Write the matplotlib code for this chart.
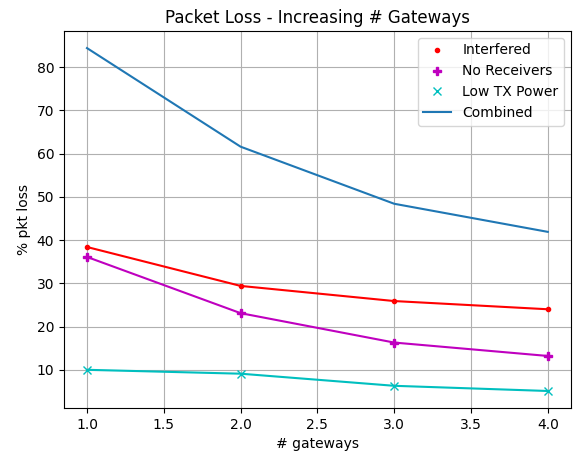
import matplotlib
matplotlib.use("agg")
import matplotlib.pyplot as plt

# datos
gateways = [1, 2, 3, 4]
interfered = [38.4, 29.4, 25.9, 24.0]
no_receivers = [36.1, 23.1, 16.3, 13.2]
low_tx_power = [10.0, 9.1, 6.3, 5.1]
combined = [84.4, 61.6, 48.4, 41.9]

fig = plt.figure(figsize=(5.76, 4.55), dpi=100)
ax = fig.add_subplot(111)
fig.subplots_adjust(left=0.111, right=0.991, top=0.932, bottom=0.103)

ax.plot(gateways, interfered, 'r.', label="Interfered")
ax.plot(gateways, interfered, 'r')
ax.plot(gateways, no_receivers, 'mP', label="No Receivers")
ax.plot(gateways, no_receivers, 'm')
ax.plot(gateways, low_tx_power, 'cx', label="Low TX Power")
ax.plot(gateways, low_tx_power, 'c')
ax.plot(gateways, combined, label="Combined")

ax.set_title("Packet Loss - Increasing # Gateways")
ax.set_xlabel("# gateways")
ax.set_ylabel("% pkt loss")
ax.legend(loc="upper right")
ax.grid(True)

fig.savefig("out.png", dpi=100)
